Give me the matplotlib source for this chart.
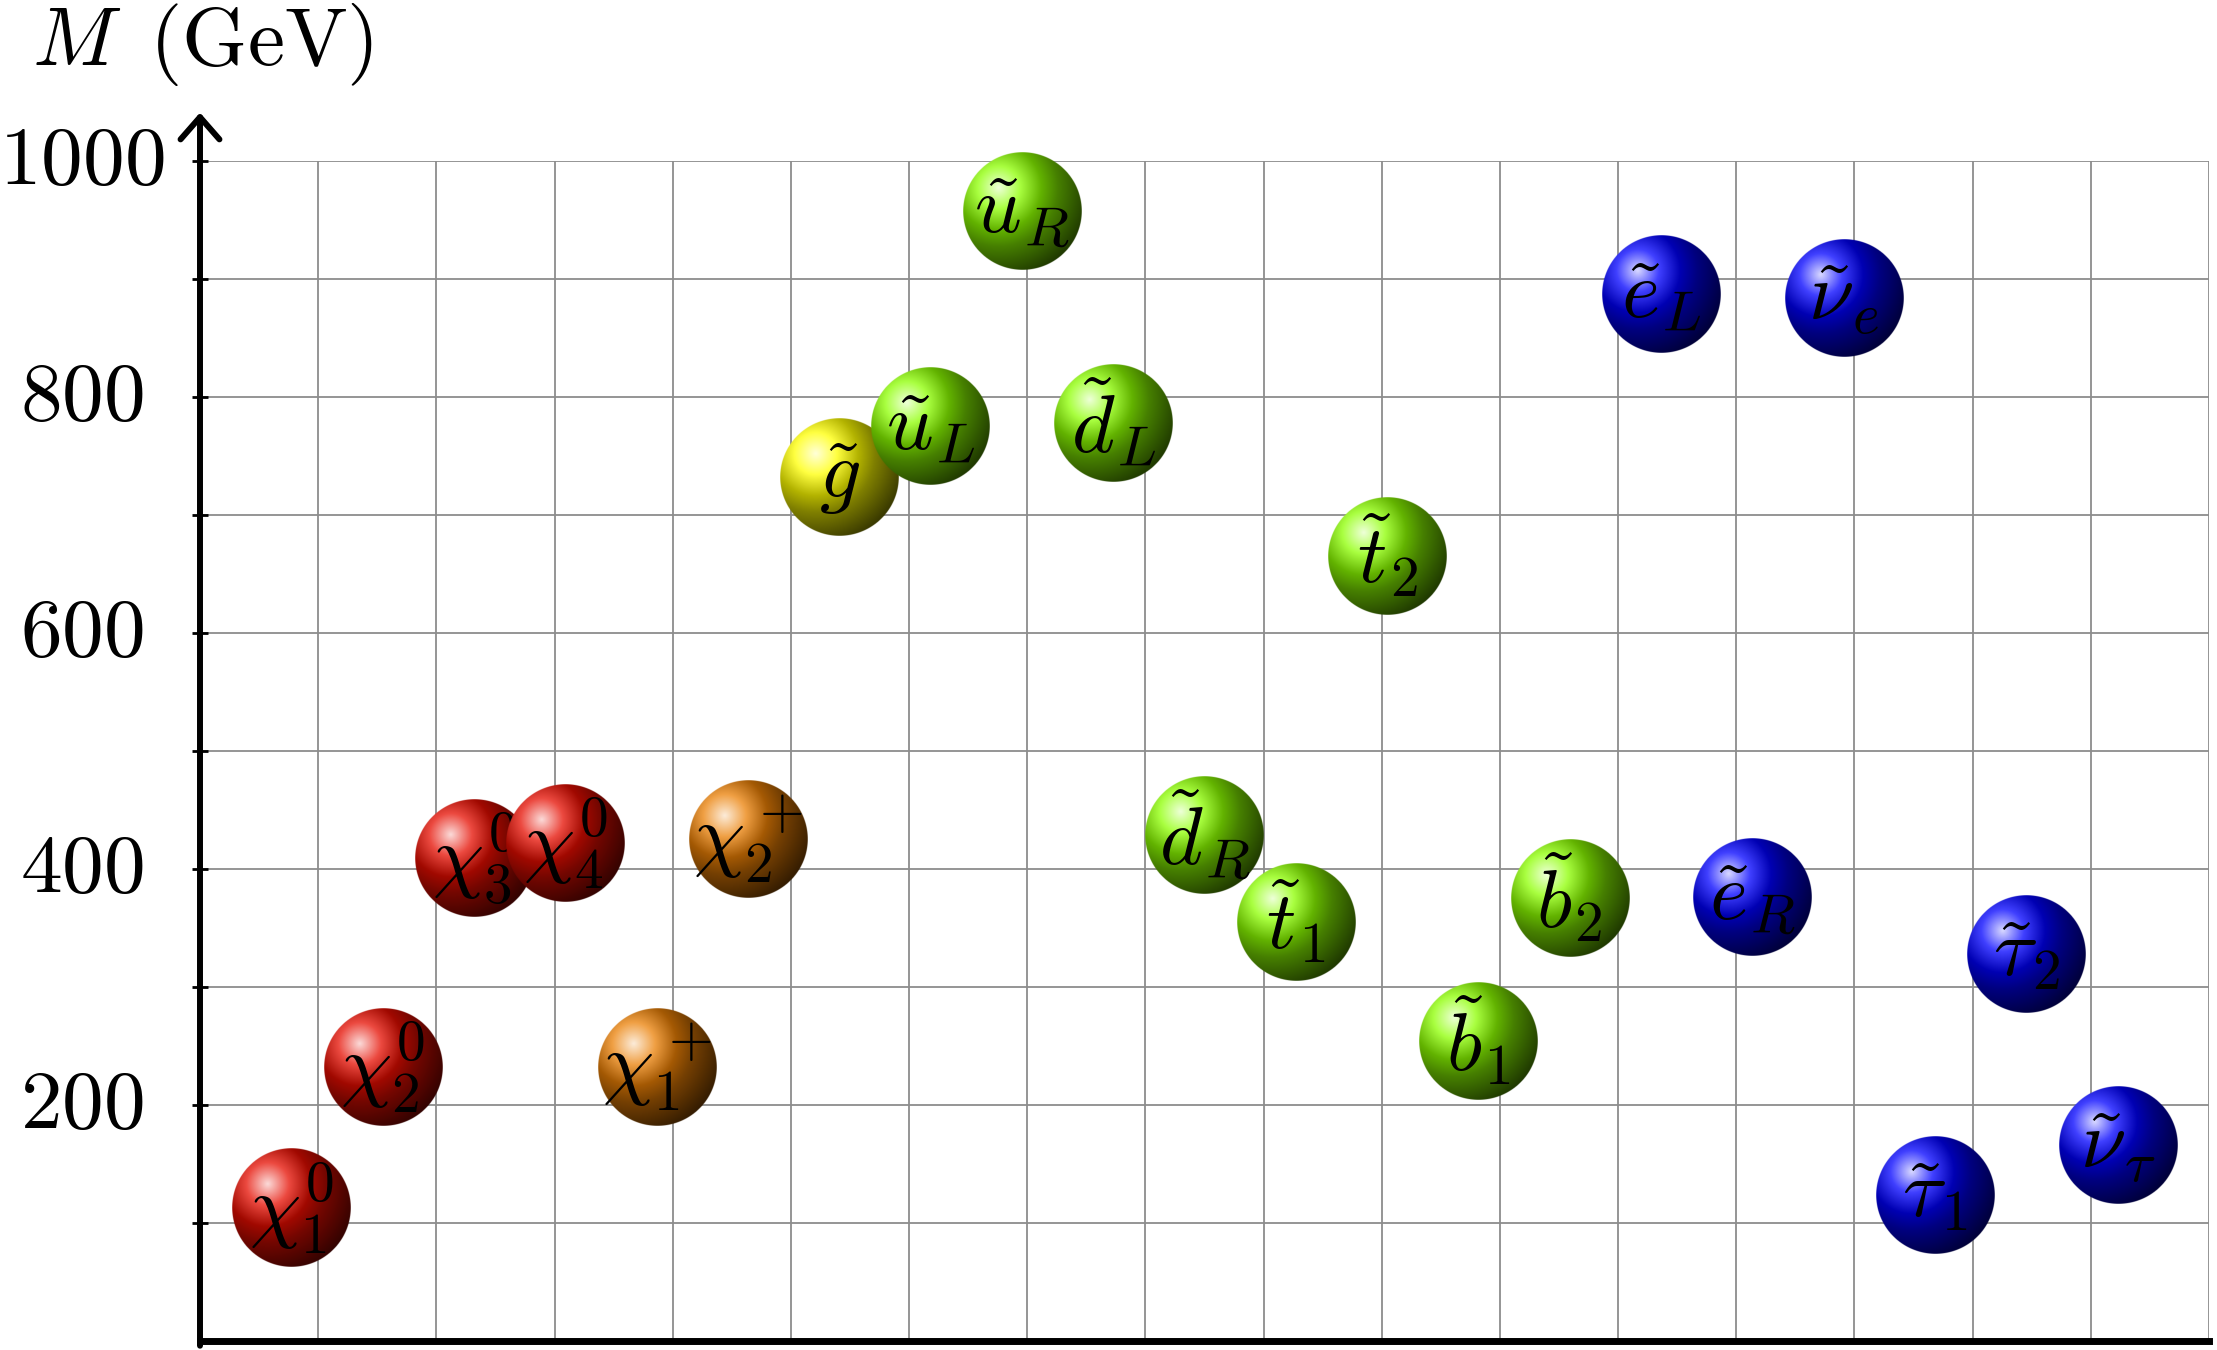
import numpy as np
import matplotlib
matplotlib.use('Agg')
import matplotlib.pyplot as plt
from matplotlib.patches import FancyArrowPatch

plt.rcParams['mathtext.fontset'] = 'cm'

# Sparticle labels and masses (GeV), left to right
labels = [r'$\chi_1^0$', r'$\chi_2^0$', r'$\chi_3^0$', r'$\chi_4^0$',
          r'$\chi_1^+$', r'$\chi_2^+$', r'$\tilde{g}$',
          r'$\tilde{u}_L$', r'$\tilde{u}_R$', r'$\tilde{d}_L$', r'$\tilde{d}_R$',
          r'$\tilde{t}_1$', r'$\tilde{t}_2$', r'$\tilde{b}_1$', r'$\tilde{b}_2$',
          r'$\tilde{e}_L$', r'$\tilde{e}_R$', r'$\tilde{\nu}_e$',
          r'$\tilde{\tau}_1$', r'$\tilde{\tau}_2$', r'$\tilde{\nu}_\tau$']
masses = [113, 232, 409, 422, 232, 425, 732, 775, 958, 778, 429,
          355, 665, 254, 375, 887, 376, 884, 124, 328, 166]
kinds = ['neutralino'] * 4 + ['chargino'] * 2 + ['gluino'] + ['squark'] * 8 + ['slepton'] * 6

ball_colors = {'neutralino': (0.9, 0.05, 0.0),
               'chargino': (0.92, 0.5, 0.02),
               'gluino': (1.0, 1.0, 0.0),
               'squark': (0.55, 1.0, 0.0),
               'slepton': (0.0, 0.0, 1.0)}

ytick_vals = list(range(100, 1001, 100))


def ball_image(color, n=256):
    # tikz-like "ball" radial shading, highlight up-left
    c = np.array(color)
    t = np.linspace(-1, 1, n)
    X, Y = np.meshgrid(t, t)
    d = 25 * np.hypot(X + 0.4, Y - 0.4)
    stops = [0, 9, 18, 25, 50]
    cols = [0.15 * c + 0.85, 0.75 * c + 0.25, 0.7 * c, 0.5 * c, np.zeros(3)]
    img = np.zeros((n, n, 4))
    for k in range(3):
        img[..., k] = np.interp(d, stops, [cc[k] for cc in cols])
    r = np.hypot(X, Y)
    img[..., 3] = np.clip((1 - r) * n / 2 + 0.5, 0, 1)
    return img


fig = plt.figure(figsize=(22.17, 13.5), dpi=100)
ax = fig.add_axes([200 / 2217, 9 / 1350, 2009 / 2217, 1180 / 1350])

xpos = np.arange(1, len(masses) + 1) * 17 / (len(masses) + 1)

for i, (x, m, lab, kind) in enumerate(zip(xpos, masses, labels, kinds)):
    im = ax.imshow(ball_image(ball_colors[kind]), origin='lower',
                   extent=[x - 0.5, x + 0.5, m - 50, m + 50],
                   aspect='auto', zorder=3 + 2 * i)
    im.set_clip_on(False)
    ax.text(x, m, lab, ha='center', va='center', fontsize=59, zorder=4 + 2 * i)

ax.set_xlim(0, 17)
ax.set_ylim(0, 1000)

ax.set_xticks(range(18))
ax.tick_params(axis='x', length=0, labelbottom=False)
ax.set_yticks(ytick_vals)
ax.set_yticklabels(['' if v % 200 else r'$%d$' % v for v in ytick_vals])
ax.tick_params(axis='y', direction='inout', length=12, width=2, pad=79,
               labelsize=60, color='black')
for t in ax.get_yticklabels():
    t.set_horizontalalignment('center')
    t.set_verticalalignment('center')

ax.grid(True, color='0.55', lw=1.3)
ax.set_axisbelow(True)

for s in ['top', 'right', 'left']:
    ax.spines[s].set_visible(False)
ax.spines['bottom'].set_linewidth(5)
ax.spines['bottom'].set_color('black')

arrow = FancyArrowPatch((0, -4), (0, 1041), arrowstyle='->,head_length=16,head_width=14',
                        mutation_scale=1, lw=4.3, color='black', shrinkA=0, shrinkB=0,
                        transform=ax.transData, clip_on=False, zorder=50)
ax.add_patch(arrow)

fig.text(32 / 2217, 1 - 65 / 1350, r'$M\ \,(\mathrm{GeV})$', ha='left', va='baseline',
         fontsize=60)

fig.savefig('out.png', dpi=100)
